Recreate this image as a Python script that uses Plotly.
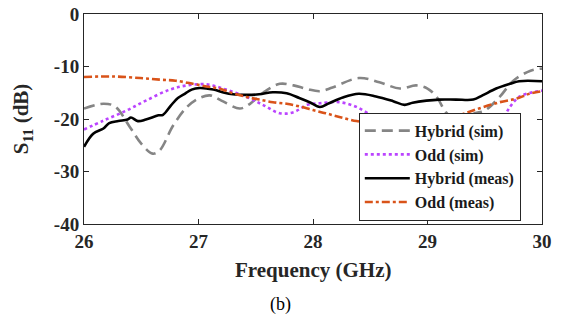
import plotly.graph_objects as go

# ---- data ----
hyb_sim_f = [26.0, 26.17, 26.27, 26.4, 26.5, 26.6, 26.66, 26.78, 26.9, 27.0, 27.1, 27.2, 27.36, 27.45,
             27.57, 27.71, 27.83, 27.95, 28.06, 28.17, 28.4, 28.58, 28.76, 28.9, 29.0, 29.08, 29.16,
             29.24, 29.32, 29.4, 29.5, 29.63, 29.75, 29.9, 30.0]
hyb_sim_db = [-18.0, -17.1, -17.6, -21.5, -24.7, -26.6, -26.0, -21.2, -17.7, -16.1, -15.5, -16.5, -18.0, -17.1,
              -14.9, -13.3, -13.6, -14.3, -14.7, -14.0, -12.2, -13.0, -14.2, -13.6, -14.2, -15.8, -18.7,
              -20.3, -20.8, -19.0, -18.4, -15.8, -12.7, -10.8, -10.4]

odd_sim_f = [26.0, 26.17, 26.37, 26.54, 26.75, 26.9, 27.07, 27.24, 27.42, 27.57, 27.71, 27.83, 27.95,
             28.06, 28.23, 28.38, 28.5, 28.55, 28.7, 28.9, 29.1, 29.3, 29.5, 29.64, 29.72, 29.8, 29.92, 30.0]
odd_sim_db = [-22.0, -20.3, -18.4, -16.5, -14.4, -13.6, -13.4, -14.4, -15.8, -17.4, -18.9, -18.7, -17.3,
              -17.0, -16.8, -17.7, -19.3, -20.7, -25.0, -29.0, -31.0, -29.0, -24.0, -20.7, -17.7, -15.8, -14.9, -14.6]

hyb_meas_f = [26.0, 26.08, 26.17, 26.22, 26.3, 26.38, 26.41, 26.47, 26.54, 26.65, 26.69, 26.76, 26.82,
              26.88, 26.94, 27.01, 27.13, 27.21, 27.3, 27.42, 27.53, 27.65, 27.77, 27.88, 27.97, 28.06,
              28.14, 28.26, 28.4, 28.55, 28.7, 28.8, 28.87, 28.99, 29.1, 29.25, 29.4, 29.48, 29.6, 29.72,
              29.8, 30.0]
hyb_meas_db = [-25.3, -22.8, -21.8, -20.8, -20.4, -20.1, -19.7, -20.4, -20.1, -19.3, -19.2, -17.4, -16.0,
               -15.2, -14.4, -14.1, -14.4, -14.9, -15.3, -15.4, -15.3, -14.9, -15.1, -16.0, -16.8, -17.7,
               -17.0, -15.9, -15.2, -15.7, -16.6, -17.3, -16.9, -16.5, -16.3, -16.3, -16.3, -15.5, -14.2, -13.3,
               -12.8, -12.8]

odd_meas_f = [26.0, 26.25, 26.49, 26.66, 26.8, 26.95, 27.07, 27.18, 27.3, 27.42, 27.53, 27.65, 27.77,
              27.88, 28.0, 28.11, 28.23, 28.38, 28.55, 28.75, 28.95, 29.13, 29.28, 29.45, 29.63, 29.78,
              29.89, 30.0]
odd_meas_db = [-12.0, -11.9, -12.2, -12.5, -12.7, -13.3, -13.8, -14.2, -15.1, -15.8, -16.3, -16.8, -17.1,
               -17.6, -18.3, -18.9, -19.6, -20.4, -21.0, -21.5, -21.3, -20.6, -19.3, -18.0, -16.8, -16.1,
               -15.2, -14.7]

x_ticks = [26, 27, 28, 29, 30]
x_ticktext = ["26", "27", "28", "29", "30"]
y_ticks = [0, -10, -20, -30, -40]
y_ticktext = ["0", "-10", "-20", "-30", "-40"]
series_names = ["Hybrid (sim)", "Odd (sim)", "Hybrid (meas)", "Odd (meas)"]

FONT = "Liberation Serif"

def b(s):
    return "<b>" + s + "</b>"

fig = go.Figure()
fig.add_trace(go.Scatter(x=hyb_sim_f, y=hyb_sim_db, mode="lines", name=b(series_names[0]),
                         line=dict(color="#858585", width=2.6, dash="11px,6px", shape="spline")))
fig.add_trace(go.Scatter(x=odd_sim_f, y=odd_sim_db, mode="lines", name=b(series_names[1]),
                         line=dict(color="#BB44FF", width=2.6, dash="dot", shape="spline")))
fig.add_trace(go.Scatter(x=hyb_meas_f, y=hyb_meas_db, mode="lines", name=b(series_names[2]),
                         line=dict(color="#000000", width=2.6, shape="spline")))
fig.add_trace(go.Scatter(x=odd_meas_f, y=odd_meas_db, mode="lines", name=b(series_names[3]),
                         line=dict(color="#D95319", width=2.6, dash="8px,3px,3px,3px", shape="spline")))

axis_common = dict(showline=True, mirror="ticks", linecolor="#262626", linewidth=1,
                   ticks="inside", ticklen=5, tickcolor="#262626", showgrid=False, zeroline=False,
                   ticklabeloverflow="allow", automargin=False,
                   tickfont=dict(family=FONT, size=19, color="#262626"))

fig.update_layout(
    width=553, height=314,
    margin=dict(l=76, r=19, t=6, b=98, autoexpand=False),
    paper_bgcolor="white", plot_bgcolor="white",
    xaxis=dict(range=[26, 30], tickvals=x_ticks, ticktext=[b(t) for t in x_ticktext], **axis_common),
    yaxis=dict(range=[-40, 0], tickvals=y_ticks, ticktext=[b(t) for t in y_ticktext], **axis_common),
    showlegend=True,
    legend=dict(x=0.6, y=0.53, xanchor="left", yanchor="top",
                bgcolor="white", bordercolor="#262626", borderwidth=1,
                font=dict(family=FONT, size=16, color="#1a1a1a"),
                itemwidth=45, tracegroupgap=0),
    annotations=[
        dict(text=b("Frequency (GHz)"), xref="paper", yref="paper", x=0.5, y=-0.2185,
             xanchor="center", yanchor="middle", showarrow=False,
             font=dict(family=FONT, size=21, color="#262626")),
        dict(text=b("S<sub>11</sub> (dB)"), xref="paper", yref="paper", x=-0.135, y=0.5,
             xanchor="center", yanchor="middle", showarrow=False, textangle=-90,
             font=dict(family=FONT, size=21, color="#262626")),
        dict(text="(b)", xref="paper", yref="paper", x=0.428, y=-0.385,
             xanchor="center", yanchor="middle", showarrow=False,
             font=dict(family=FONT, size=18, color="#000000")),
    ],
)

fig.write_html("out.html")
